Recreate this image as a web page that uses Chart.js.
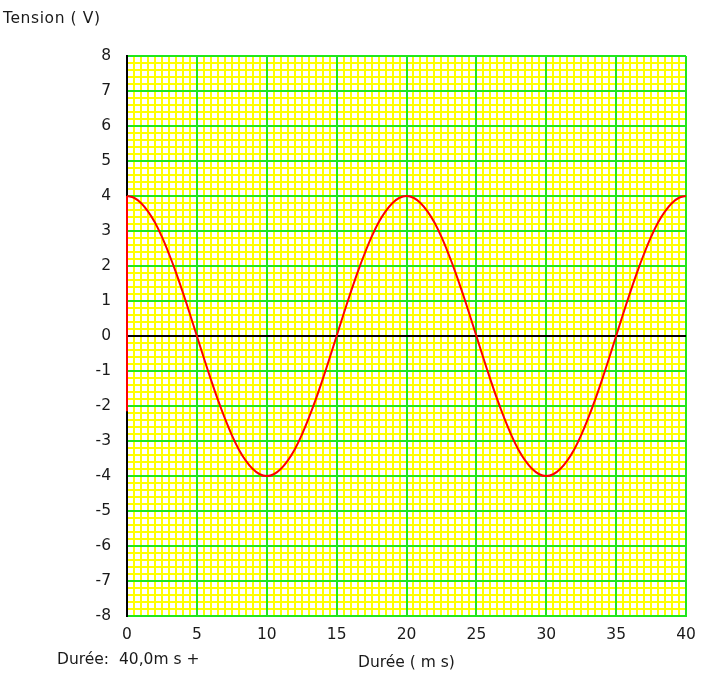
<!DOCTYPE html>
<html>
<head>
<meta charset="utf-8">
<script src="https://cdn.jsdelivr.net/npm/chart.js@4"></script>
<style>
  html, body { margin: 0; padding: 0; background: #fff; }
  #wrap { position: relative; width: 723px; height: 688px; }
  canvas { position: absolute; left: 0; top: 0; }
  .lbl { position: absolute; font-family: "DejaVu Sans", sans-serif; font-size: 15.5px; color: #1a1a1a; white-space: pre; line-height: 1; }
</style>
</head>
<body>
<div id="wrap">
  <canvas id="c" width="723" height="688"></canvas>
  <div class="lbl" style="left:3px; top:11px; letter-spacing:0.6px;">Tension ( V)</div>
  <div class="lbl" style="left:358px; top:655px;">Durée ( m s)</div>
  <div class="lbl" style="left:57px; top:652px;">Durée:  40,0m s +</div>
</div>
<script>
// Time in ms
const times = [0,0.5,1,1.5,2,2.5,3,3.5,4,4.5,5,5.5,6,6.5,7,7.5,8,8.5,9,9.5,
               10,10.5,11,11.5,12,12.5,13,13.5,14,14.5,15,15.5,16,16.5,17,17.5,18,18.5,19,19.5,
               20,20.5,21,21.5,22,22.5,23,23.5,24,24.5,25,25.5,26,26.5,27,27.5,28,28.5,29,29.5,
               30,30.5,31,31.5,32,32.5,33,33.5,34,34.5,35,35.5,36,36.5,37,37.5,38,38.5,39,39.5,40];
// Tension in V
const volts = [4.00,3.95,3.80,3.56,3.24,2.83,2.35,1.82,1.24,0.63,0.00,-0.63,-1.24,-1.82,-2.35,-2.83,-3.24,-3.56,-3.80,-3.95,
               -4.00,-3.95,-3.80,-3.56,-3.24,-2.83,-2.35,-1.82,-1.24,-0.63,0.00,0.63,1.24,1.82,2.35,2.83,3.24,3.56,3.80,3.95,
               4.00,3.95,3.80,3.56,3.24,2.83,2.35,1.82,1.24,0.63,0.00,-0.63,-1.24,-1.82,-2.35,-2.83,-3.24,-3.56,-3.80,-3.95,
               -4.00,-3.95,-3.80,-3.56,-3.24,-2.83,-2.35,-1.82,-1.24,-0.63,0.00,0.63,1.24,1.82,2.35,2.83,3.24,3.56,3.80,3.95,4.00];
// Vertical red trace at the start (t = 0)
const edgeTimes = [0, 0];
const edgeVolts = [4.00, -2.15];

const xMin = 0, xMax = 40, xMajor = 5, xMinor = 0.5;
const yMin = -8, yMax = 8, yMajor = 1, yMinor = 0.2;

const GREEN = '#1fe61f';
const YELLOW = '#ffff00';
const FONT = { family: 'DejaVu Sans', size: 15.5 };

const isMult = (v, s) => Math.abs(v / s - Math.round(v / s)) < 1e-6;

new Chart(document.getElementById('c'), {
  type: 'line',
  data: {
    datasets: [
      {
        data: times.map((t, i) => ({ x: t, y: volts[i] })),
        borderColor: '#ff0000',
        borderWidth: 2,
        pointRadius: 0,
        tension: 0.4,
        xAxisID: 'x', yAxisID: 'y'
      },
      {
        data: edgeTimes.map((t, i) => ({ x: t, y: edgeVolts[i] })),
        borderColor: '#ff0000',
        borderWidth: 2,
        pointRadius: 0,
        tension: 0,
        clip: false,
        xAxisID: 'x', yAxisID: 'y'
      }
    ]
  },
  options: {
    responsive: false,
    devicePixelRatio: 1,
    animation: false,
    layout: { padding: { left: 0, top: 56, right: 37, bottom: 0 } },
    plugins: { legend: { display: false }, tooltip: { enabled: false } },
    scales: {
      xm: {
        type: 'linear', position: 'bottom', min: xMin, max: xMax,
        ticks: { display: false, stepSize: xMinor, autoSkip: false },
        grid: { color: YELLOW, lineWidth: 2, drawTicks: false, z: -2 },
        border: { display: false }
      },
      ym: {
        type: 'linear', position: 'left', min: yMin, max: yMax,
        ticks: { display: false, stepSize: yMinor, autoSkip: false },
        grid: { color: YELLOW, lineWidth: 2, drawTicks: false, z: -2 },
        border: { display: false }
      },
      x: {
        type: 'linear', position: 'bottom', min: xMin, max: xMax,
        ticks: {
          stepSize: xMinor, autoSkip: false, maxRotation: 0, padding: 10,
          color: '#1a1a1a', font: FONT,
          callback: v => isMult(v, xMajor) ? String(Math.round(v)) : ''
        },
        grid: {
          drawTicks: false, z: -1,
          color: c => isMult(c.tick.value, xMajor) ? GREEN : 'rgba(0,0,0,0)',
          lineWidth: 2
        },
        border: { color: GREEN, width: 2 },
        afterFit: s => { s.height = 72; }
      },
      y: {
        type: 'linear', position: 'left', min: yMin, max: yMax,
        ticks: {
          stepSize: yMinor, autoSkip: false, padding: 16,
          color: '#1a1a1a', font: FONT,
          callback: v => isMult(v, yMajor) ? String(Math.round(v)) : ''
        },
        grid: {
          drawTicks: false, z: -1,
          color: c => {
            const v = c.tick.value;
            if (Math.abs(v) < 1e-6) return '#000000';
            return isMult(v, yMajor) ? GREEN : 'rgba(0,0,0,0)';
          },
          lineWidth: 2
        },
        border: { color: '#000000', width: 2 },
        afterFit: s => { s.width = 127; }
      }
    }
  }
});
</script>
</body>
</html>
